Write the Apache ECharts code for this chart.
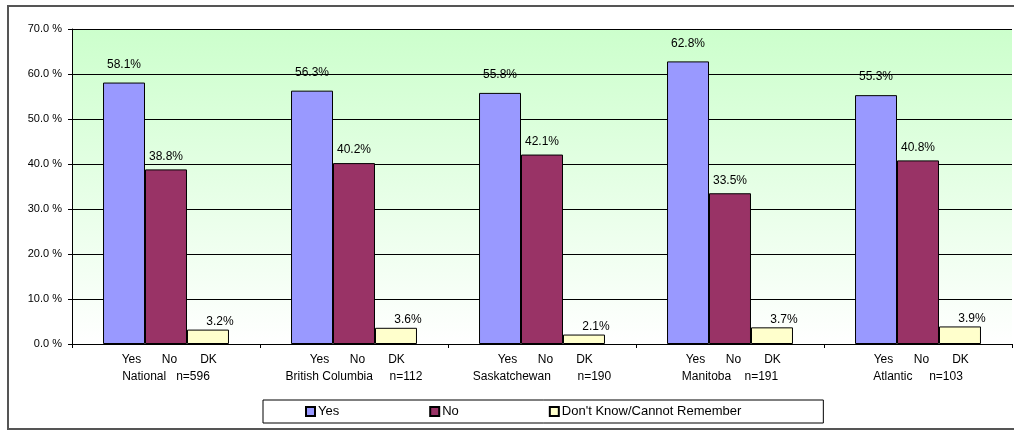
<!DOCTYPE html>
<html>
<head>
<meta charset="utf-8">
<title>Yes / No / DK by region</title>
<script src="https://cdn.jsdelivr.net/npm/echarts@6/dist/echarts.min.js"></script>
<style>
  html, body { margin: 0; padding: 0; background: #ffffff; }
  #chart { width: 1014px; height: 433px; }
</style>
</head>
<body>
<div id="chart"></div>
<script>
// Regions with their sample sizes (second line of each axis label)
const regionLabels = [
  'National   n=596',
  'British Columbia     n=112',
  'Saskatchewan        n=190',
  'Manitoba    n=191',
  'Atlantic     n=103'
];
const answerCodes = ['Yes', 'No', 'DK'];
const seriesNames = ['Yes', 'No', "Don't Know/Cannot Remember"];

// Percent of respondents per region
const yesValues = [58.1, 56.3, 55.8, 62.8, 55.3];
const noValues  = [38.8, 40.2, 42.1, 33.5, 40.8];
const dkValues  = [3.2, 3.6, 2.1, 3.7, 3.9];

const yTicks = [0, 10, 20, 30, 40, 50, 60, 70];

const FONT = 'Liberation Sans, Arial, sans-serif';
const chart = echarts.init(document.getElementById('chart'), null, { renderer: 'canvas' });

function barSeries(name, values, color, label) {
  return {
    name: name,
    type: 'bar',
    data: values,
    barGap: '0%',
    barCategoryGap: '33%',
    itemStyle: { color: color, borderColor: '#000000', borderWidth: 1 },
    label: Object.assign({
      show: true,
      position: 'top',
      color: '#000000',
      fontFamily: FONT,
      fontSize: 12,
      formatter: p => p.value.toFixed(1) + '%'
    }, label),
    emphasis: { disabled: true },
    animation: false
  };
}

chart.setOption({
  backgroundColor: '#ffffff',
  animation: false,
  graphic: [{
    type: 'rect',
    shape: { x: 8, y: 6, width: 1012, height: 423 },
    style: { fill: 'none', stroke: '#555555', lineWidth: 2 },
    z: -1
  }],
  grid: {
    left: 72, right: 2, top: 29, bottom: 89,
    show: true,
    borderWidth: 0,
    backgroundColor: new echarts.graphic.LinearGradient(0, 0, 0, 1, [
      { offset: 0, color: '#ccffcc' },
      { offset: 1, color: '#ffffff' }
    ])
  },
  legend: {
    data: seriesNames,
    left: 263,
    top: 400,
    orient: 'horizontal',
    padding: [5, 82, 5, 42],
    borderColor: '#000000',
    borderWidth: 1,
    backgroundColor: '#ffffff',
    icon: 'rect',
    itemWidth: 9,
    itemHeight: 9,
    itemGap: 90,
    textStyle: { fontFamily: FONT, fontSize: 13, color: '#000000', padding: [0, 0, 0, -2] },
    selectedMode: false
  },
  xAxis: {
    type: 'category',
    data: regionLabels,
    axisLine: { show: true, lineStyle: { color: '#000000', width: 1 } },
    axisTick: { show: true, length: 4, lineStyle: { color: '#000000' } },
    splitLine: { show: false },
    axisLabel: {
      interval: 0,
      margin: 7,
      color: '#000000',
      fontFamily: FONT,
      fontSize: 12,
      lineHeight: 17,
      formatter: value =>
        '{lead| }{y|' + answerCodes[0] + '}{n|' + answerCodes[1] + '}{d|' + answerCodes[2] + '}\n{r|' + value + '}',
      rich: {
        lead: { width: 9, fontFamily: FONT, fontSize: 12, lineHeight: 17 },
        y: { width: 38, align: 'center', fontFamily: FONT, fontSize: 12, color: '#000', lineHeight: 17 },
        n: { width: 38, align: 'center', fontFamily: FONT, fontSize: 12, color: '#000', lineHeight: 17 },
        d: { width: 40, align: 'center', fontFamily: FONT, fontSize: 12, color: '#000', lineHeight: 17 },
        r: { fontFamily: FONT, fontSize: 12, color: '#000', lineHeight: 17 }
      }
    }
  },
  yAxis: {
    type: 'value',
    min: yTicks[0],
    max: yTicks[yTicks.length - 1],
    interval: yTicks[1] - yTicks[0],
    axisLine: { show: true, lineStyle: { color: '#000000', width: 1 } },
    axisTick: { show: true, length: 4, lineStyle: { color: '#000000' } },
    splitLine: { show: true, lineStyle: { color: '#000000', width: 1 } },
    axisLabel: {
      margin: 10,
      color: '#000000',
      fontFamily: FONT,
      fontSize: 11,
      formatter: v => v.toFixed(1) + ' %'
    }
  },
  series: [
    barSeries(seriesNames[0], yesValues, '#9999ff', { distance: 12 }),
    barSeries(seriesNames[1], noValues, '#993366', { distance: 7 }),
    barSeries(seriesNames[2], dkValues, '#ffffcc', { distance: 2, offset: [12, 0] })
  ]
});
</script>
</body>
</html>
